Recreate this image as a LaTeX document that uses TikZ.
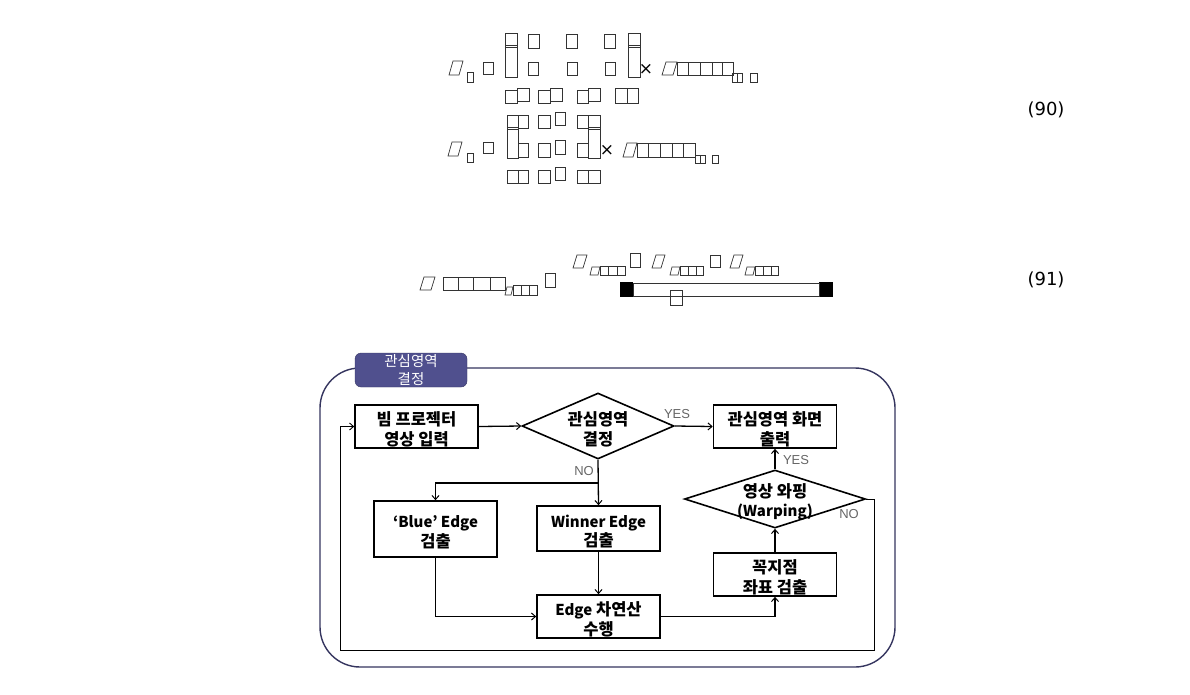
\documentclass[tikz,border=0pt]{standalone}
\usepackage{fontspec}
\setmainfont{DejaVu Sans}
\newfontfamily\kr{Noto Sans CJK KR}
\newfontfamily\lab{Liberation Sans}
\usetikzlibrary{shapes.geometric,arrows.meta}
\definecolor{framec}{HTML}{35355F}
\definecolor{tabc}{HTML}{50508E}
\newcommand\tb[4]{\draw[tofu] (#1,#2) rectangle (#3,#4);}
\newcommand\tp[4]{\draw[tofu] (#1,#4) -- ({#3-4},#4) -- (#3,#2) -- ({#1+4},#2) -- cycle;}
\newcommand\tps[4]{\draw[tofu] (#1,#4) -- ({#3-2},#4) -- (#3,#2) -- ({#1+2},#2) -- cycle;}
\newcommand\brk[4]{\draw[tofu] (#1,#2) rectangle (#3,#4); \draw[tofu] (#1,{#2+12}) -- (#3,{#2+12}) (#1,{#2+14}) -- (#3,{#2+14});}
\newcommand\lt[1]{{\fontsize{15}{19}\selectfont #1}}
\newcommand\tx[2][-9pt]{\smash{\makebox[0pt]{\raisebox{#1}{\begin{tabular}{@{}c@{}}#2\end{tabular}}}}}
\begin{document}
\begin{tikzpicture}[x=1pt,y=-1pt,
  tofu/.style={draw=black!80,line width=0.7pt},
  box/.style={draw=black,line width=1.6pt,rectangle,minimum width=123pt,inner sep=0pt,
    font=\kr\bfseries\fontsize{16.5}{19}\selectfont},
  dia/.style={draw=black,line width=1.6pt,diamond,inner sep=0pt,font=\kr\bfseries\fontsize{16.5}{19}\selectfont},
  arr/.style={line width=1.3pt,-{Straight Barb[length=4pt,width=7pt,line width=1pt]}},
  lp/.style={line width=0.9pt},
  lbl/.style={font=\lab\fontsize{13}{13}\selectfont,text=black!60,inner sep=0pt},
  eqn/.style={font=\fontsize{18}{18}\selectfont,inner sep=0pt},
  xx/.style={font=\fontsize{17}{17}\selectfont,inner sep=0pt}]
\useasboundingbox (0,0) rectangle (1190,694);
\fill[white] (0,0) rectangle (1190,694);

% ---------- equation (90), upper part ----------
\brk{505}{33}{517}{77}
\tb{528}{34}{539}{48} \tb{566}{34}{577}{48} \tb{604}{34}{615}{48}
\brk{628}{33}{640}{77}
\tp{449}{61}{463}{75} \tb{467}{72}{473}{82} \tb{483}{62}{493}{74}
\tb{528}{62}{538}{75} \tb{567}{62}{577}{75} \tb{605}{62}{615}{75}
\node[xx] (x1) at (646,69) {×};
\tp{662}{62}{677}{75}
\foreach \a/\b in {677/688,688/700,700/712,712/722,722/733} {\tb{\a}{62}{\b}{75}}
\tb{732}{73}{742}{82} \draw[tofu] (737,73) -- (737,82); \tb{750}{73}{757}{82}
\tb{505}{90}{517}{103} \tb{517}{88}{529}{101}
\tb{538}{90}{550}{103} \tb{550}{88}{562}{101}
\tb{577}{90}{588}{103} \tb{588}{88}{600}{101}
\tb{615}{88}{627}{103} \tb{627}{88}{638}{103}

% ---------- equation (90), lower part ----------
\brk{507}{115}{518}{158} \tb{518}{115}{528}{128}
\tb{538}{115}{550}{128} \tb{555}{112}{565}{125}
\tb{577}{115}{588}{128} \brk{588}{115}{600}{158}
\tp{448}{142}{462}{156} \tb{467}{153}{473}{162} \tb{483}{142}{493}{153}
\tb{518}{143}{528}{157} \tb{538}{143}{550}{157} \tb{555}{140}{565}{154} \tb{577}{143}{588}{157}
\node[xx] (x2) at (607,150) {×};
\tp{623}{143}{637}{157}
\foreach \a/\b in {637/648,648/660,660/672,672/683,683/695} {\tb{\a}{143}{\b}{157}}
\tb{695}{155}{705}{163} \draw[tofu] (700,155) -- (700,163); \tb{712}{155}{718}{163}
\tb{507}{170}{518}{183} \tb{518}{170}{528}{183}
\tb{538}{170}{550}{183} \tb{555}{167}{565}{180}
\tb{577}{170}{588}{183} \tb{588}{170}{600}{183}
\node[eqn] (n90) at (1046,110) {(90)};

% ---------- equation (91) ----------
\tp{420}{277}{435}{290}
\foreach \a/\b in {443/458,458/473,473/490,490/505} {\tb{\a}{277}{\b}{290}}
\tps{505}{287}{513}{295}
\foreach \a/\b in {513/521,521/529,529/537} {\tb{\a}{285}{\b}{295}}
\tb{545}{273}{555}{287}
\tp{573}{255}{587}{268} \tps{590}{267}{600}{275}
\foreach \a/\b in {600/608,608/617,617/625} {\tb{\a}{266}{\b}{275}}
\tb{630}{253}{640}{267}
\tp{652}{255}{665}{268} \tps{670}{267}{680}{275}
\foreach \a/\b in {680/688,688/696,696/703} {\tb{\a}{266}{\b}{275}}
\tb{710}{255}{720}{267}
\tp{730}{255}{743}{268} \tps{745}{267}{755}{275}
\foreach \a/\b in {755/763,763/771,771/778} {\tb{\a}{266}{\b}{275}}
\fill (620,282) rectangle (633,297);
\fill (819,282) rectangle (833,297);
\draw[tofu] (633,283) rectangle (819,296);
\tb{670}{290}{682}{305}
\node[eqn] (n91) at (1046,280) {(91)};

% ---------- flowchart frame ----------
\draw[framec,line width=1.4pt,rounded corners=40pt] (320,368) rectangle (895,667);
\node[draw=tabc!70!black,fill=tabc,rounded corners=6pt,minimum width=112pt,minimum height=34pt,inner sep=0pt,
  align=center,text=white,font=\kr\fontsize{14.5}{18}\selectfont] (tab) at (411,370) {관심영역\\결정};

% ---------- nodes ----------
\node[box,minimum height=43pt] (b1) at (416.5,426.5) {\tx{빔 프로젝터\\영상 입력}};
\node[dia,minimum width=152pt,minimum height=66pt] (d1) at (598,426) {\tx[-9.5pt]{관심영역\\결정}};
\node[box,minimum height=43pt] (b3) at (775,426.5) {\tx{관심영역 화면\\출력}};
\node[dia,minimum width=181pt,minimum height=58pt] (d2) at (775,499) {\tx[-8pt]{영상 와핑\\\lt{(Warping)}}};
\node[box,minimum height=56pt] (b5) at (435.5,529) {\tx{\lt{‘Blue’ Edge}\\검출}};
\node[box,minimum height=45pt] (b6) at (598.5,528.5) {\tx{\lt{Winner Edge}\\검출}};
\node[box,minimum height=43pt] (b7) at (598.5,616.5) {\tx{\lt{Edge} 차연산\\수행}};
\node[box,minimum height=43pt] (b8) at (775,574.5) {\tx{꼭지점\\좌표 검출}};

% ---------- connectors ----------
\draw[arr] (b1.east) -- (d1.west);
\draw[arr] (d1.east) -- (b3.west);
\draw[arr] (d1.south) -- (b6.north);
\coordinate (nob) at (598,483);
\draw[arr] (nob) -| (b5.north);
\draw[arr] (b5.south) |- (b7.west);
\draw[arr] (b6.south) -- (b7.north);
\draw[arr] (b7.east) -| (b8.south);
\draw[arr] (b8.north) -- (d2.south);
\draw[arr] (d2.north) -- (b3.south);
\coordinate (r1) at (874,499);
\coordinate (r2) at (874,650);
\coordinate (r3) at (340,650);
\coordinate (r4) at (340,426.5);
\draw[lp,-{Straight Barb[length=4pt,width=7pt,line width=0.9pt]}] (d2.east) -- (r1) -- (r2) -- (r3) -- (r4) -- (b1.west);

% ---------- labels ----------
\node[lbl] (yes1) at (677,414) {YES};
\node[lbl] (no1) at (584,471) {NO};
\node[lbl] (yes2) at (796,460) {YES};
\node[lbl] (no2) at (849,514) {NO};
\end{tikzpicture}
\end{document}
